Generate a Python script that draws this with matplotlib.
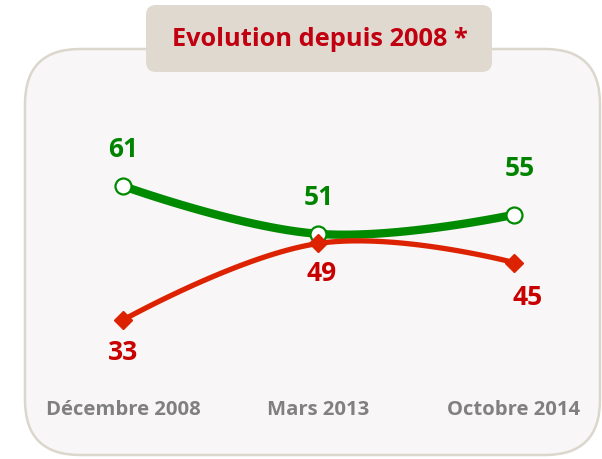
import matplotlib
matplotlib.use('Agg')
import matplotlib.pyplot as plt
from matplotlib.patches import FancyBboxPatch
import matplotlib.transforms as mtrans
import numpy as np

categories = ['Décembre 2008', 'Mars 2013', 'Octobre 2014']
green_values = [61, 51, 55]
red_values = [33, 49, 45]
title_text = 'Evolution depuis 2008 *'

# label offsets in pixels (dx, dy), layout only
green_label_off = [(0, 37), (0, 37), (6, 47)]
red_label_off = [(0, -31), (3, -29), (14, -34)]

GREEN = '#008a00'
RED = '#dc2200'
RED_TXT = '#c80000'
FONT = ['Open Sans', 'DejaVu Sans']
plt.rcParams['font.family'] = FONT


def spline_xy(xs, ys, smoothing=1.5, n=60):
    xs = list(map(float, xs)); ys = list(map(float, ys))
    m = len(xs)
    conts = []
    for i in range(m):
        if i == 0 or i == m - 1:
            conts.append(((xs[i], ys[i]), (xs[i], ys[i])))
            continue
        d = smoothing + 1
        lx = (smoothing * xs[i] + xs[i - 1]) / d
        ly = (smoothing * ys[i] + ys[i - 1]) / d
        rx = (smoothing * xs[i] + xs[i + 1]) / d
        ry = (smoothing * ys[i] + ys[i + 1]) / d
        corr = 0
        if rx != lx:
            corr = (ry - ly) * (rx - xs[i]) / (rx - lx) + ys[i] - ry
        ly += corr; ry += corr
        conts.append(((lx, ly), (rx, ry)))
    t = np.linspace(0, 1, n)
    X, Y = [], []
    for i in range(1, m):
        p0 = np.array([xs[i - 1], ys[i - 1]])
        p1 = np.array(conts[i - 1][1])
        p2 = np.array(conts[i][0])
        p3 = np.array([xs[i], ys[i]])
        pts = ((1 - t) ** 3)[:, None] * p0 + (3 * (1 - t) ** 2 * t)[:, None] * p1 \
            + (3 * (1 - t) * t ** 2)[:, None] * p2 + (t ** 3)[:, None] * p3
        X.extend(pts[:, 0]); Y.extend(pts[:, 1])
    return np.array(X), np.array(Y)


W, H = 602, 460
fig = plt.figure(figsize=(W / 100, H / 100), dpi=100)
fig.patch.set_facecolor('white')

# background axes in pixel coordinates
bg = fig.add_axes([0, 0, 1, 1])
bg.set_xlim(0, W); bg.set_ylim(H, 0); bg.axis('off')
panel = FancyBboxPatch((25 + 55, 50 + 55), 575 - 110, 406 - 110,
                       boxstyle='round,pad=55', fc='#f8f6f7', ec='#dcd7cd', lw=1.8)
bg.add_patch(panel)
tbox = FancyBboxPatch((146 + 10, 6 + 10), 346 - 20, 67 - 20,
                      boxstyle='round,pad=10', fc='#e0d9cf', ec='none')
bg.add_patch(tbox)
bg.text(320, 40, title_text, ha='center', va='center', color='#c00010',
        fontsize=18.3, fontweight='bold')

# data axes
ax = fig.add_axes([0, 0, 1, 1])
ax.patch.set_alpha(0)
ax.axis('off')
ax.set_xlim(-0.629, 2.450)
ax.set_ylim(3.96, 100.07)

x = np.arange(len(categories))
gx, gy = spline_xy(x, green_values)
rx, ry = spline_xy(x, red_values)
ax.plot(gx, gy, color=GREEN, lw=6, solid_capstyle='round', zorder=3)
ax.plot(rx, ry, color=RED, lw=3.8, solid_capstyle='round', zorder=4)
ax.plot(x, green_values, ls='none', marker='o', ms=11.5, mfc='white',
        mec=GREEN, mew=1.6, zorder=5)
ax.plot(x, red_values, ls='none', marker='D', ms=9.5, mfc=RED,
        mec=RED, zorder=6)

for i, v in enumerate(green_values):
    dx, dy = green_label_off[i]
    ax.annotate(str(v), (x[i], v), xytext=(dx * 0.72, dy * 0.72),
                textcoords='offset points', ha='center', va='center',
                color='#008400', fontsize=19, fontweight='bold', zorder=7)
for i, v in enumerate(red_values):
    dx, dy = red_label_off[i]
    ax.annotate(str(v), (x[i], v), xytext=(dx * 0.72, dy * 0.72),
                textcoords='offset points', ha='center', va='center',
                color=RED_TXT, fontsize=19, fontweight='bold', zorder=7)

trans = mtrans.blended_transform_factory(ax.transData, ax.transAxes)
for i, c in enumerate(categories):
    ax.text(x[i], 1 - 410 / H, c, transform=trans, ha='center', va='center',
            color='#808080', fontsize=14.6, fontweight='bold')

fig.savefig('out.png', dpi=100)
